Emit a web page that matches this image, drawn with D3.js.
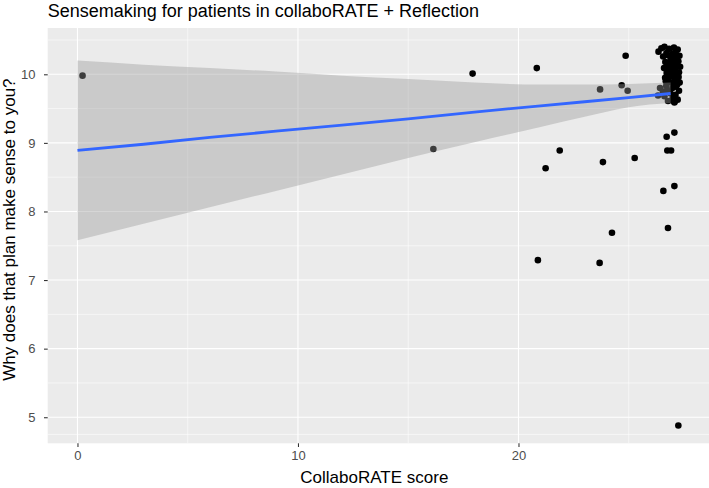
<!DOCTYPE html>
<html>
<head>
<meta charset="utf-8">
<script src="https://cdn.jsdelivr.net/npm/d3@7"></script>
<style>
  body { margin: 0; background: #fff; }
  text { font-family: "Liberation Sans", Arial, sans-serif; }
</style>
</head>
<body>
<svg width="709" height="488"></svg>
<script>
// jittered points (CollaboRATE score, sensemaking rating)
var scoreX = [0.23, 16.14, 17.92, 20.83, 20.88, 21.23, 21.87, 23.68, 23.7, 23.83, 24.24, 24.68, 24.86, 24.95, 25.27,
  26.72, 27.07, 26.75, 26.92, 26.57, 27.07, 26.78, 27.25, 27.07,
  26.35, 26.48, 26.62, 26.71, 26.83, 26.95, 27.05, 27.12, 27.22, 27.3, 26.56, 26.9, 27.18,
  26.66, 26.78, 26.88, 27.02, 27.1, 27.25, 27.33, 26.72, 27.15, 27.28, 26.95, 26.6, 27.06,
  26.65, 26.8, 26.93, 27.04, 27.2, 27.31, 26.7, 26.98, 27.14, 27.26, 26.86,
  26.55, 26.62, 26.9, 27.0, 27.12, 27.22, 27.28, 26.78, 27.08, 26.33, 26.42,
  26.75, 27.0, 26.85, 27.18, 26.9, 27.1, 26.75, 26.95, 27.2, 26.82, 27.0, 26.68, 27.12];
var senseY = [9.98, 8.91, 10.01, 10.09, 7.29, 8.63, 8.89, 7.25, 9.78, 8.72, 7.69, 9.84, 10.27, 9.76, 8.78,
  9.09, 9.15, 8.89, 8.89, 8.3, 8.37, 7.76, 4.88, 9.59,
  10.33, 10.38, 10.4, 10.31, 10.37, 10.28, 10.39, 10.33, 10.36, 10.27, 10.26, 10.22, 10.24,
  10.18, 10.12, 10.05, 10.16, 10.08, 10.19, 10.11, 10.02, 10.0, 10.03, 10.13, 10.09, 10.22,
  9.95, 9.9, 9.97, 9.86, 9.93, 9.88, 9.83, 9.8, 9.82, 9.96, 9.99,
  9.75, 9.68, 9.72, 9.65, 9.7, 9.63, 9.76, 9.61, 9.6, 9.69, 9.8,
  10.28, 10.3, 10.15, 10.12, 9.88, 9.93, 9.76, 9.62, 9.85, 10.06, 10.05, 9.9, 10.3];

// lm smooth with its confidence band, read at a few x positions
var fitX = [0, 3, 6, 9, 12, 15, 18, 21, 23, 25, 26.9];
var fitY = [8.89, 8.98, 9.08, 9.17, 9.26, 9.35, 9.45, 9.54, 9.60, 9.66, 9.72];
var bandLo = [7.58, 7.82, 8.06, 8.30, 8.54, 8.78, 9.01, 9.23, 9.38, 9.52, 9.58];
var bandHi = [10.20, 10.14, 10.09, 10.04, 9.98, 9.93, 9.88, 9.85, 9.85, 9.86, 9.88];

var xTicks = [0, 10, 20];
var xMinor = [5, 15, 25];
var yTicks = [5, 6, 7, 8, 9, 10];
var yMinor = [4.75, 5.5, 6.5, 7.5, 8.5, 9.5, 10.5];

var pLeft = 47.7, pTop = 28, pRight = 709, pBottom = 443.3;

var svg = d3.select('svg');
var x = d3.scaleLinear().domain([-1.35, 28.64]).range([pLeft, pRight]);
var y = d3.scaleLinear().domain([4.62, 10.675]).range([pBottom, pTop]);

svg.append('rect')
  .attr('x', pLeft).attr('y', pTop)
  .attr('width', pRight - pLeft).attr('height', pBottom - pTop)
  .attr('fill', '#EBEBEB');

var g = svg.append('g');
g.selectAll('.ym').data(yMinor.filter(d => y(d) < pBottom)).enter().append('line')
  .attr('x1', pLeft).attr('x2', pRight).attr('y1', d => y(d)).attr('y2', d => y(d))
  .attr('stroke', '#fff').attr('stroke-width', 0.55);
g.selectAll('.xm').data(xMinor).enter().append('line')
  .attr('y1', pTop).attr('y2', pBottom).attr('x1', d => x(d)).attr('x2', d => x(d))
  .attr('stroke', '#fff').attr('stroke-width', 0.55);
g.selectAll('.yM').data(yTicks).enter().append('line')
  .attr('x1', pLeft).attr('x2', pRight).attr('y1', d => y(d)).attr('y2', d => y(d))
  .attr('stroke', '#fff').attr('stroke-width', 1.1);
g.selectAll('.xM').data(xTicks).enter().append('line')
  .attr('y1', pTop).attr('y2', pBottom).attr('x1', d => x(d)).attr('x2', d => x(d))
  .attr('stroke', '#fff').attr('stroke-width', 1.1);

// points first, smooth drawn over them
svg.append('g').selectAll('circle')
  .data(scoreX.map((v, i) => [v, senseY[i]]))
  .enter().append('circle')
  .attr('cx', d => x(d[0])).attr('cy', d => y(d[1]))
  .attr('r', 3.3).attr('fill', '#000');

var band = fitX.map((v, i) => ({x: v, lo: bandLo[i], hi: bandHi[i], fit: fitY[i]}));
svg.append('path').datum(band)
  .attr('d', d3.area().x(d => x(d.x)).y0(d => y(d.lo)).y1(d => y(d.hi)).curve(d3.curveMonotoneX))
  .attr('fill', '#999999').attr('fill-opacity', 0.4);
svg.append('path').datum(band)
  .attr('d', d3.line().x(d => x(d.x)).y(d => y(d.fit)))
  .attr('fill', 'none').attr('stroke', '#3366FF').attr('stroke-width', 2.8);

// axes
var xAxis = d3.axisBottom(x).tickValues(xTicks).tickFormat(d3.format('d')).tickSize(3.7).tickPadding(3.5);
var ax = svg.append('g').attr('transform', 'translate(0,' + pBottom + ')').call(xAxis);
var yAxis = d3.axisLeft(y).tickValues(yTicks).tickFormat(d3.format('d')).tickSize(3.7).tickPadding(8.5);
var ay = svg.append('g').attr('transform', 'translate(' + pLeft + ',0)').call(yAxis);
[ax, ay].forEach(a => {
  a.select('.domain').remove();
  a.selectAll('.tick line').attr('stroke', '#333333').attr('stroke-width', 1.07);
  a.selectAll('.tick text').attr('fill', '#4D4D4D').style('font-size', '13px')
    .style('font-family', '"Liberation Sans", Arial, sans-serif');
});

svg.append('text')
  .attr('x', pLeft).attr('y', 17)
  .style('font-size', '18px').attr('fill', '#000')
  .text('Sensemaking for patients in collaboRATE + Reflection');

svg.append('text')
  .attr('x', (pLeft + pRight) / 2 - 4).attr('y', 483)
  .attr('text-anchor', 'middle')
  .style('font-size', '17px')
  .text('CollaboRATE score');

svg.append('text')
  .attr('transform', 'translate(15,' + ((pTop + pBottom) / 2 - 6) + ') rotate(-90)')
  .attr('text-anchor', 'middle')
  .style('font-size', '17px')
  .text('Why does that plan make sense to you?');
</script>
</body>
</html>
